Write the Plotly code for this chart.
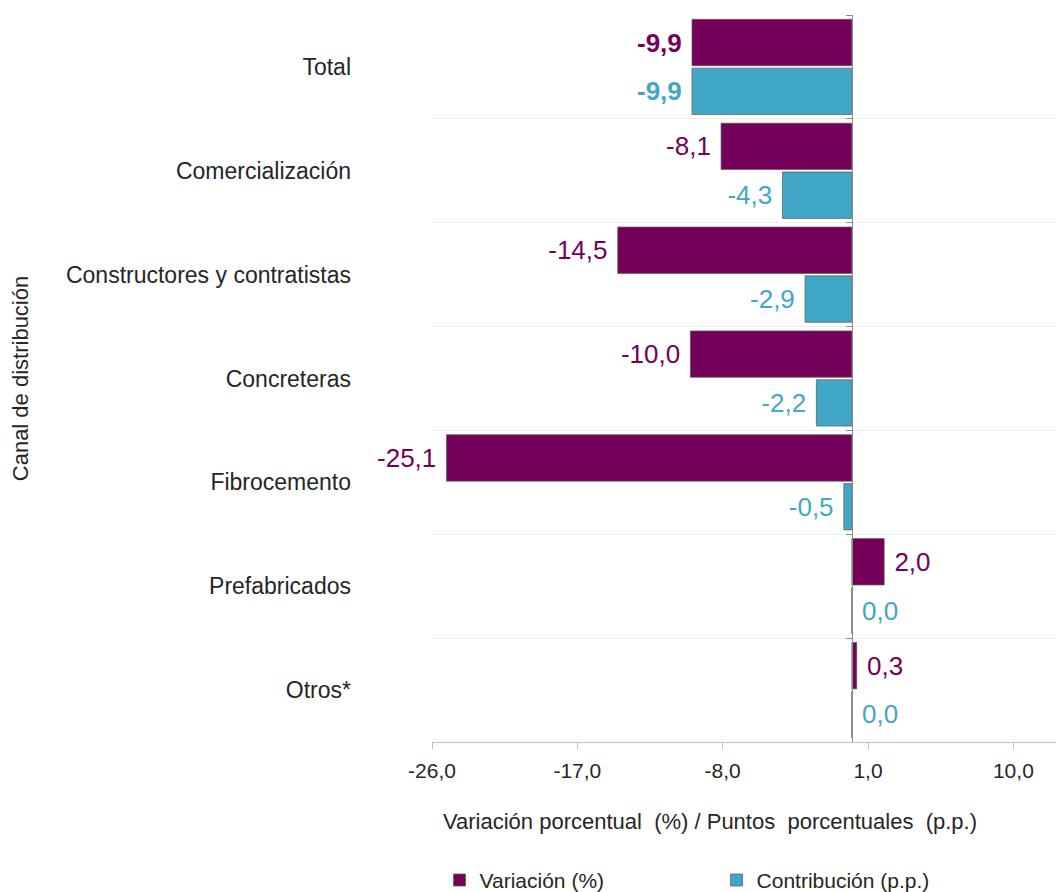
import plotly.graph_objects as go

CATEGORIES = [
    "Total",
    "Comercialización",
    "Constructores y contratistas",
    "Concreteras",
    "Fibrocemento",
    "Prefabricados",
    "Otros*",
]
VARIACION = [-9.9, -8.1, -14.5, -10.0, -25.1, 2.0, 0.3]
CONTRIBUCION = [-9.9, -4.3, -2.9, -2.2, -0.5, 0.0, 0.0]
X_TICKS = [-26, -17, -8, 1, 10]

PURPLE = "#75005A"
TEAL = "#40A8C6"
TEXT = "#262626"
FONT = "Liberation Sans, Arial, sans-serif"
X_RANGE = [-26, 13.63]


def fmt(v, bold=False):
    s = f"{v:.1f}".replace(".", ",")
    return f"<b>{s}</b>" if bold else s


def label(v, bold=False):
    # a little breathing room between bar end and its value
    s = fmt(v, bold)
    return s + " " if v < 0 else " " + s


def make_bar(name, values, color):
    return go.Bar(
        name=name,
        y=CATEGORIES,
        x=values,
        orientation="h",
        marker=dict(color=color, line=dict(color="rgba(90,90,90,0.7)", width=1)),
        text=[label(v, bold=(i == 0)) for i, v in enumerate(values)],
        textposition="outside",
        textfont=dict(family=FONT, size=26, color=color),
        constraintext="none",
        cliponaxis=False,
    )


fig = go.Figure()
fig.add_trace(make_bar("Variación (%)", VARIACION, PURPLE))
fig.add_trace(make_bar("Contribución (p.p.)", CONTRIBUCION, TEAL))

# helper trace so the zero-axis (with boundary ticks) exists as a category axis
fig.add_trace(go.Scatter(
    x=[0] * len(CATEGORIES), y=CATEGORIES, yaxis="y2", mode="markers",
    marker=dict(opacity=0), showlegend=False, hoverinfo="skip",
))

fig.update_layout(
    width=1064,
    height=892,
    margin=dict(l=424, r=0, t=7, b=158, autoexpand=False),
    paper_bgcolor="white",
    plot_bgcolor="white",
    barmode="group",
    bargap=0.06,
    bargroupgap=0.05,
    font=dict(family=FONT, color=TEXT),
    xaxis=dict(
        range=X_RANGE,
        tickvals=X_TICKS,
        ticktext=[fmt(v) for v in X_TICKS],
        tickfont=dict(size=21, color=TEXT),
        ticks="outside",
        ticklen=6,
        tickcolor="#bfbfbf",
        ticklabelstandoff=4,
        showline=True,
        linecolor="#bfbfbf",
        showgrid=False,
        zeroline=False,
        automargin=False,
    ),
    yaxis=dict(
        type="category",
        range=[6.5, -0.5],
        tickson="boundaries",
        ticks="",
        showgrid=True,
        gridcolor="#ededed",
        showline=False,
        zeroline=False,
        automargin=False,
        tickfont=dict(size=23, color=TEXT),
        ticklabelstandoff=80,
        title=dict(text="Canal de distribución", font=dict(size=22, color=TEXT), standoff=44),
    ),
    yaxis2=dict(
        type="category",
        overlaying="y",
        matches="y",
        anchor="free",
        position=(0 - X_RANGE[0]) / (X_RANGE[1] - X_RANGE[0]),
        side="left",
        tickson="boundaries",
        ticks="outside",
        ticklen=6,
        tickcolor="#8c8c8c",
        showticklabels=False,
        showgrid=False,
        showline=True,
        linecolor="#8c8c8c",
        zeroline=False,
        automargin=False,
    ),
    annotations=[dict(
        text="Variación porcentual  (%) / Puntos  porcentuales  (p.p.)",
        xref="paper", yref="paper", x=0.434, y=-0.11,
        xanchor="center", yanchor="middle", showarrow=False,
        font=dict(size=22, color=TEXT),
    )],
    legend=dict(
        orientation="h",
        xref="container",
        yref="container",
        x=0.4056,
        y=0.045,
        xanchor="left",
        yanchor="top",
        entrywidth=232,
        entrywidthmode="pixels",
        itemwidth=30,
        font=dict(size=21, color=TEXT),
    ),
    showlegend=True,
)

fig.write_html("out.html")
